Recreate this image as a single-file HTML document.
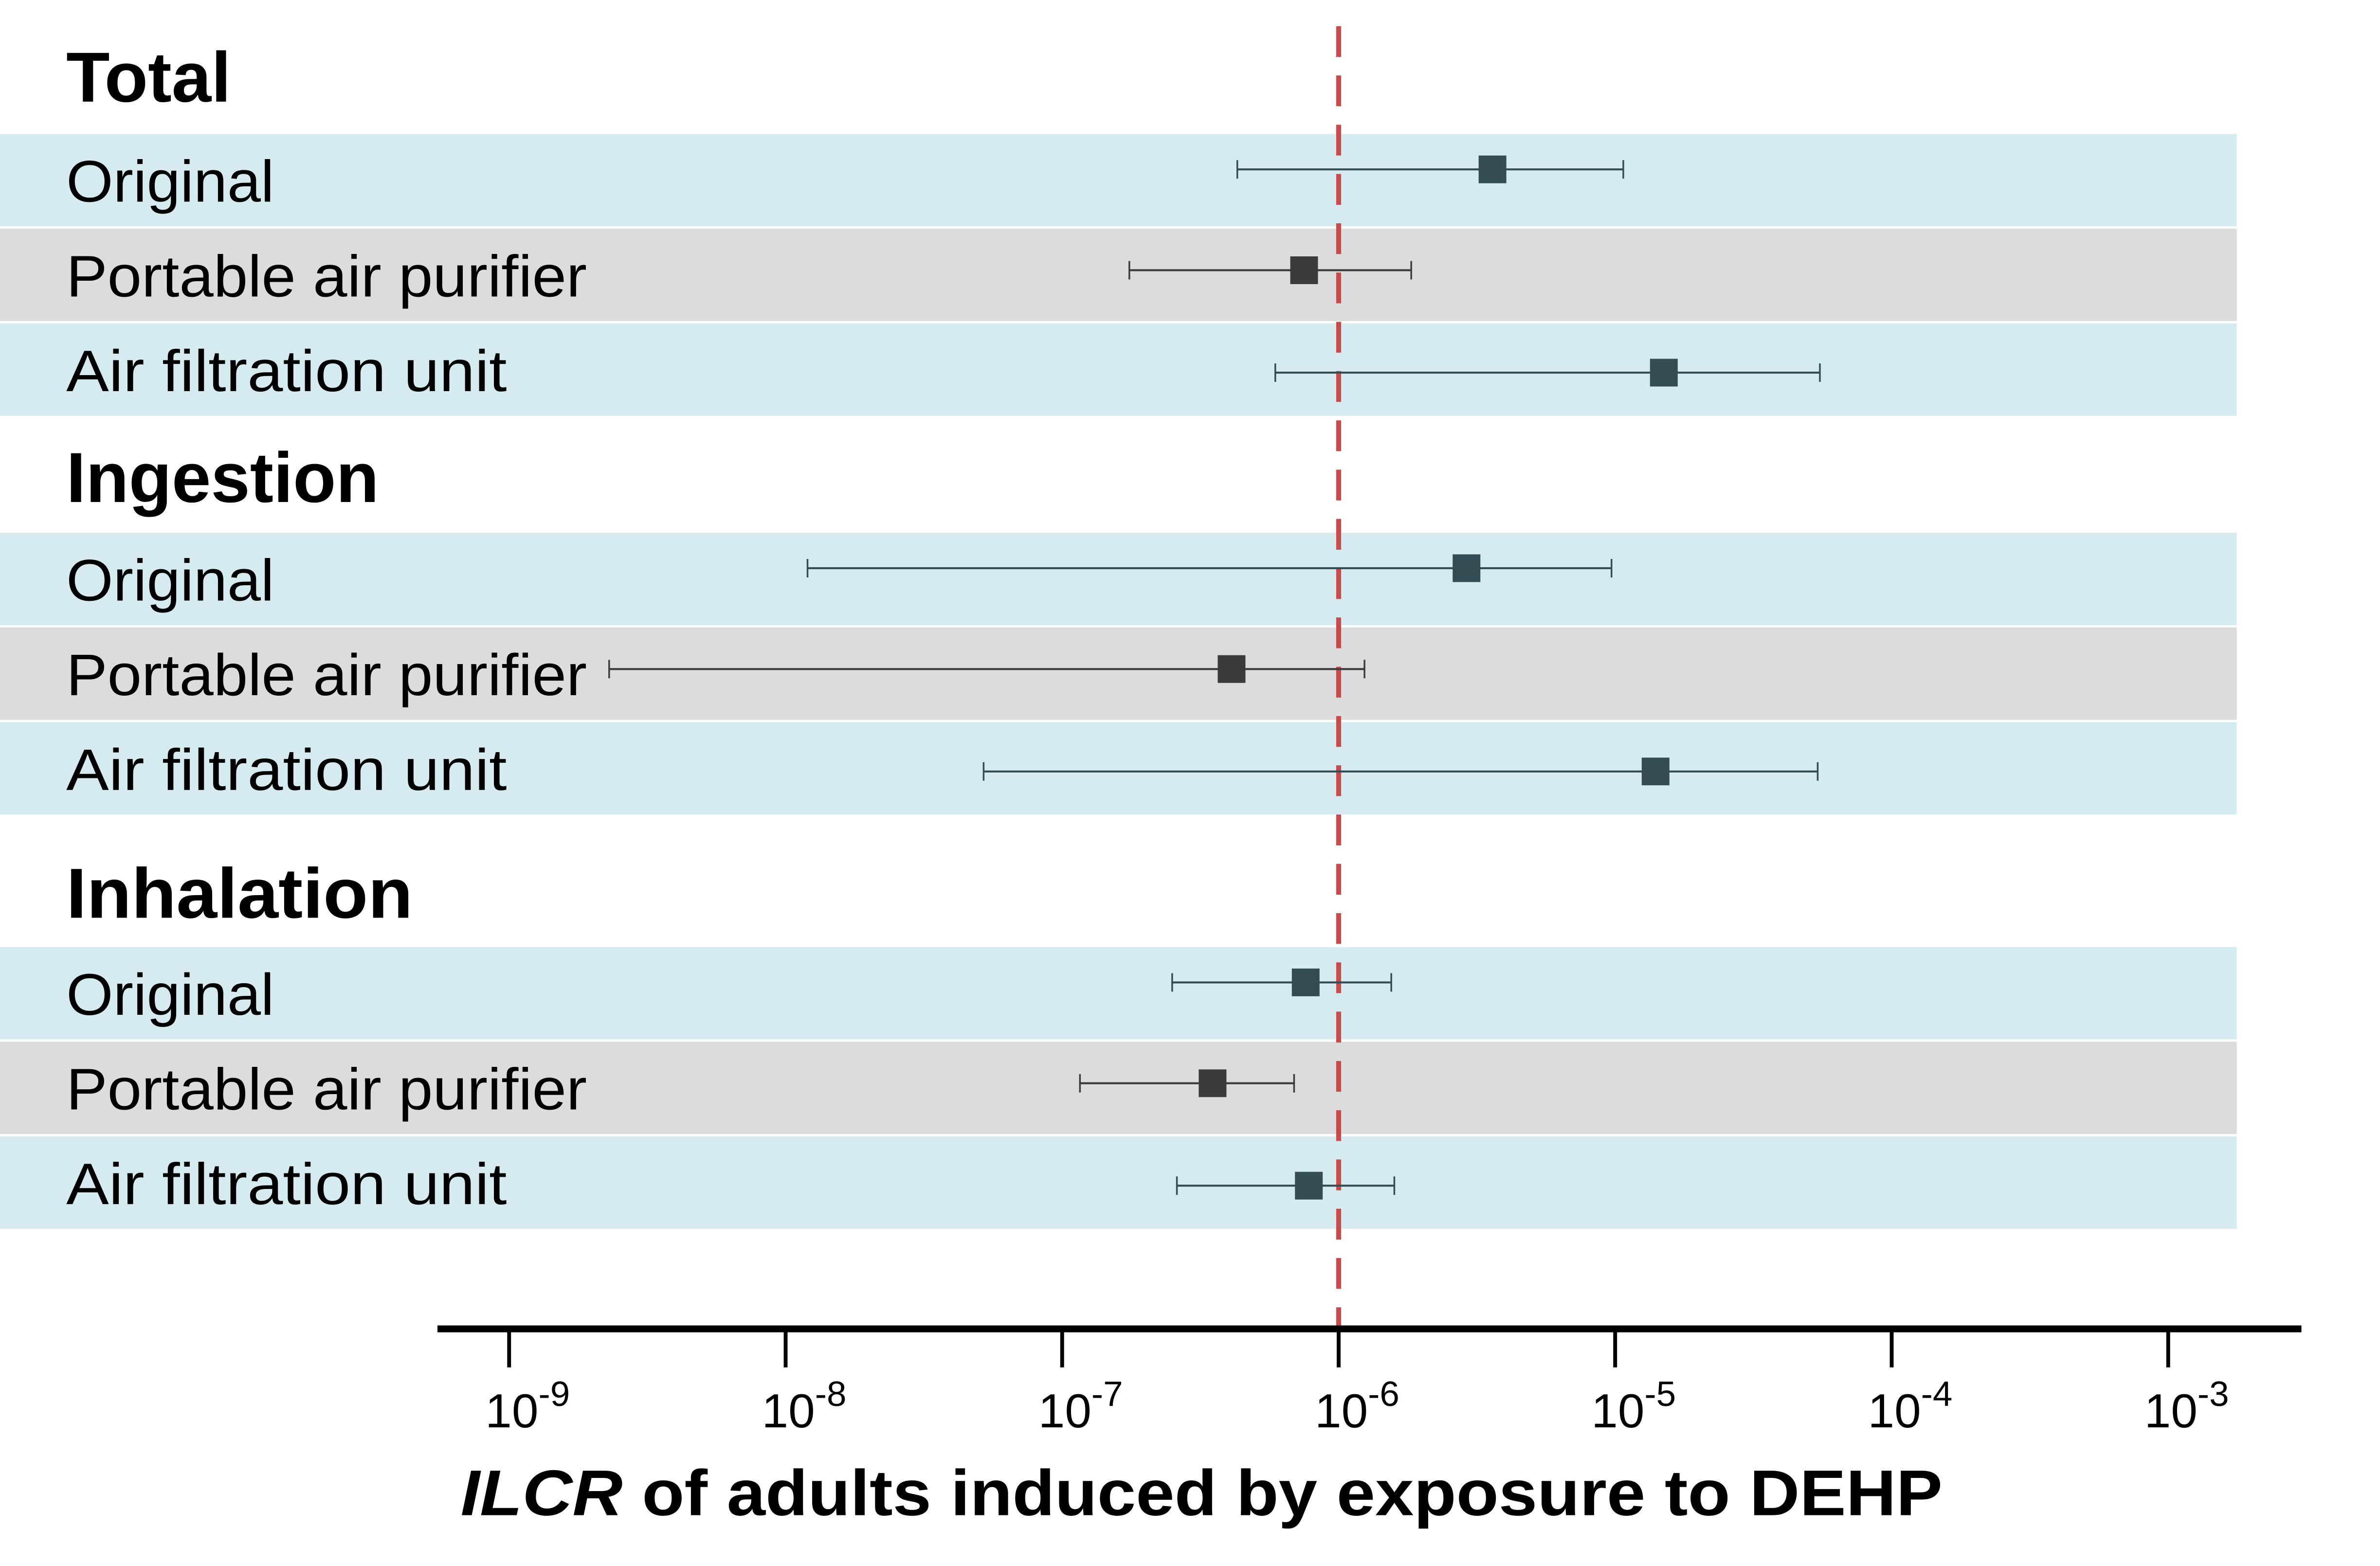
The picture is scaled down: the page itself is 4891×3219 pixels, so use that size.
<!DOCTYPE html>
<html><head><meta charset="utf-8"><style>
html,body{margin:0;padding:0;background:#fff;}
svg{display:block;}
text{font-family:"Liberation Sans",sans-serif;}
</style></head><body>
<svg id="chart" width="4891" height="3219" viewBox="0 0 1545 1017" preserveAspectRatio="none" xmlns="http://www.w3.org/2000/svg">
<g id="bands"></g>
<g id="labels"></g>
<line x1="869" y1="17" x2="869" y2="862" stroke="#c94a4a" stroke-width="3.2" stroke-dasharray="20,12"/>
<g id="marks"></g>
<line x1="284" y1="863" x2="1494" y2="863" stroke="#000" stroke-width="4.5"/>
<g id="axis"></g>
<text x="780" y="984" text-anchor="middle" font-size="42" font-weight="bold" textLength="962" lengthAdjust="spacingAndGlyphs"><tspan font-style="italic">ILCR</tspan> of adults induced by exposure to DEHP</text>
</svg>
<script>
const groups = ["Total","Ingestion","Inhalation"];
const scenarios = ["Original","Portable air purifier","Air filtration unit"];
const pointVals = [3.6e-6,7.5e-7,1.5e-5, 2.9e-6,4.1e-7,1.4e-5, 7.6e-7,3.5e-7,7.8e-7];
const lowVals = [4.3e-7,1.75e-7,5.9e-7, 1.2e-8,2.3e-9,5.2e-8, 2.5e-7,1.16e-7,2.6e-7];
const highVals = [1.07e-5,1.83e-6,5.5e-5, 9.7e-6,1.24e-6,5.4e-5, 1.55e-6,6.9e-7,1.59e-6];
const tickExps = [-9,-8,-7,-6,-5,-4,-3];

const NS="http://www.w3.org/2000/svg";
const titleLen=[107,203,225];
const labelLen=[135,338,286];
function xs(v){return 869+179.5*(Math.log10(v)+6);}
function mk(tag,attrs,parent){const e=document.createElementNS(NS,tag);for(const k in attrs)e.setAttribute(k,attrs[k]);parent.appendChild(e);return e;}
const bands=document.getElementById('bands'),labels=document.getElementById('labels'),marks=document.getElementById('marks'),axis=document.getElementById('axis');
const groupTop=[87,346,615];
const titleY=[66,326,596];
groups.forEach((g,gi)=>{
  const t=mk('text',{x:43,y:titleY[gi],'font-size':46,'font-weight':'bold',textLength:titleLen[gi],lengthAdjust:'spacingAndGlyphs'},labels);
  
  
  t.textContent=g;
  scenarios.forEach((s,si)=>{
    const idx=gi*3+si;
    const top=groupTop[gi]+si*61.5;
    const cy=top+29;
    const r=mk('rect',{x:0,y:top,width:1452,height:60,fill:si===1?'#dcdcdc':'#d5ebf0'},bands);
    
    
    const l=mk('text',{x:43,y:top+44,'font-size':38,textLength:labelLen[si],lengthAdjust:'spacingAndGlyphs'},labels);
    
    
    l.textContent=s;
    const col=si===1?'#3b3b3b':'#344c54';
    const y=cy+(si===0?-6:(si===1?-2:3));
    const x1=xs(lowVals[idx]),x2=xs(highVals[idx]),xp=xs(pointVals[idx]);
    const ln=mk('line',{x1:x1,y1:y,x2:x2,y2:y,stroke:col,'stroke-width':1.3},marks);
    
    
    [x1,x2].forEach(xx=>{
      const c=mk('line',{x1:xx,y1:y-6,x2:xx,y2:y+6,stroke:col,'stroke-width':1.1},marks);
      
      
    });
    const p=mk('rect',{x:xp-9,y:y-9,width:18,height:18,fill:col},marks);
    
    
  });
});
tickExps.forEach(e=>{
  const x=xs(Math.pow(10,e));
  const tk=mk('line',{x1:x,y1:865,x2:x,y2:888,stroke:'#000','stroke-width':2.5},axis);
  
  
  const t=mk('text',{x:x+12,y:927,'font-size':31,'text-anchor':'middle'},axis);
  
  
  const b=document.createElementNS(NS,'tspan');b.textContent='10';t.appendChild(b);
  const sup=document.createElementNS(NS,'tspan');sup.setAttribute('dy','-14');sup.setAttribute('font-size','23');sup.textContent=String(e);t.appendChild(sup);
});
</script>
</body></html>
